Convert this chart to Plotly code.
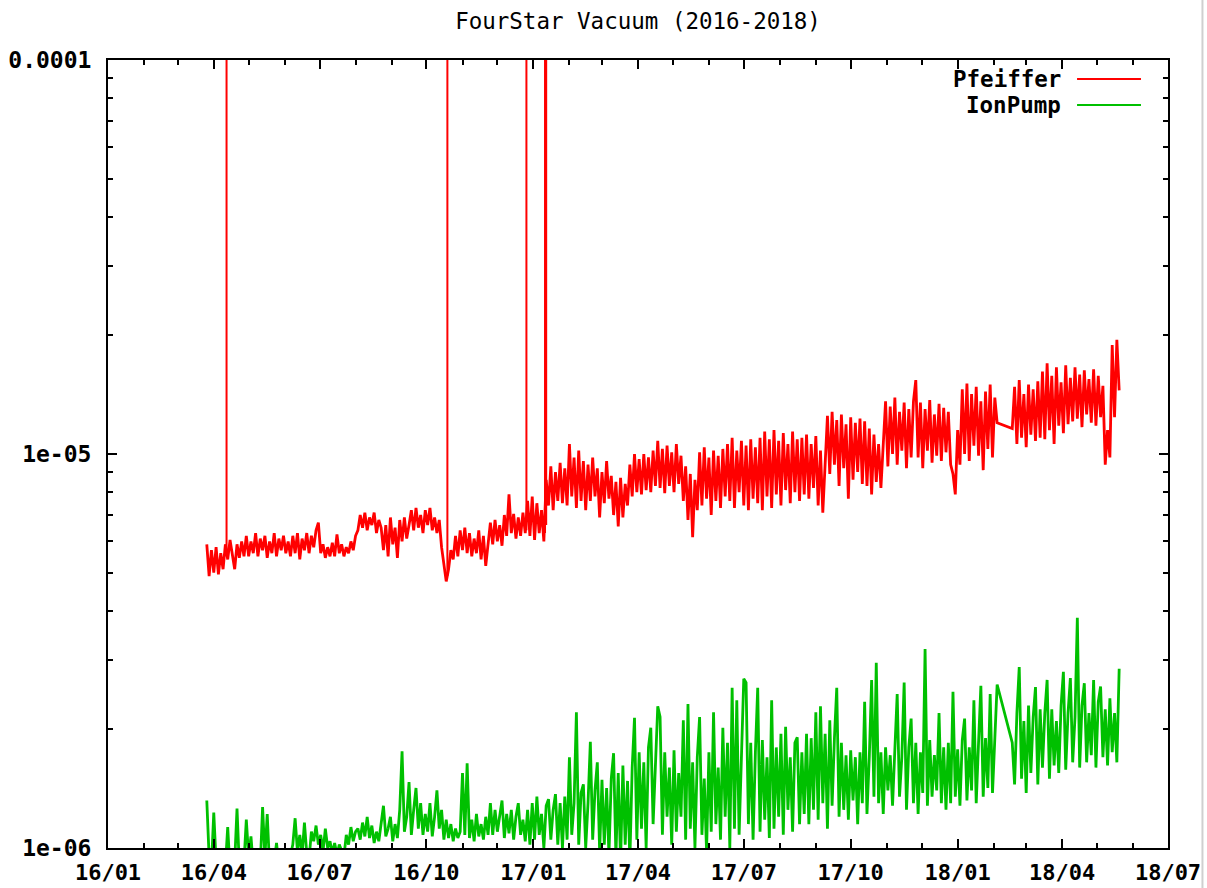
import pandas as pd
import plotly.graph_objects as go

title_text = "FourStar Vacuum (2016-2018)"
series_names = ["Pfeiffer", "IonPump"]
series_colors = ["#ff0000", "#00c000"]

# Sampling: 2-day cadence, two runs separated by a data gap in Feb 2018
run1_start = "2016-03-26"
run2_start = "2018-02-17"
sample_step = "2D"
unit = 1e-6  # all values below are in units of 1e-6

pfeiffer_run1 = [
    5.9, 4.9, 5.7, 5.0, 5.8, 4.95, 5.6, 5.1, 5.9, 5.4,
    6.05, 5.5, 5.1, 5.9, 5.45, 6.0, 5.5, 6.2, 5.5, 6.0,
    5.6, 6.3, 5.5, 6.1, 5.7, 6.2, 5.45, 6.0, 5.6, 6.3,
    5.5, 6.1, 5.7, 6.2, 5.6, 6.0, 5.5, 6.2, 5.6, 6.3,
    5.4, 6.1, 5.7, 6.3, 5.6, 6.2, 5.8, 6.4, 6.7, 5.6,
    5.9, 5.45, 5.8, 5.5, 5.95, 5.5, 6.25, 5.6, 5.9, 5.5,
    5.8, 5.6, 6.0, 5.7, 6.2, 6.4, 7.0, 6.5, 7.1, 6.4,
    6.9, 6.6, 7.1, 6.3, 6.8, 6.5, 5.7, 6.6, 5.5, 6.9,
    5.9, 6.5, 5.45, 6.8, 6.0, 6.9, 6.1, 6.6, 7.2, 6.4,
    7.3, 6.5, 7.0, 6.3, 7.2, 6.6, 7.3, 6.4, 6.9, 6.3,
    6.8, 5.8, 5.2, 4.75, 5.1, 5.7, 5.4, 6.2, 5.5, 6.4,
    5.7, 6.5, 5.6, 6.3, 5.5, 6.1, 5.6, 6.4, 5.4, 6.2,
    5.2, 5.9, 6.7, 5.9, 6.8, 6.0, 6.6, 5.85, 7.0, 6.2,
    7.9, 6.3, 7.05, 6.1, 6.9, 6.2, 7.1, 6.3, 7.6, 6.2,
    7.8, 6.05, 7.5, 6.3, 7.2, 6.0, 8.6, 7.4, 9.3, 7.2,
    9.0, 7.6, 9.5, 7.5, 9.2, 7.4, 10.6, 7.8, 9.8, 7.3,
    10.2, 7.6, 9.6, 7.2, 9.4, 7.6, 9.8, 7.8, 9.2, 6.9,
    9.0, 7.5, 9.6, 7.7, 8.8, 7.0, 8.5, 6.55, 8.7, 6.9,
    8.4, 7.4, 9.4, 7.8, 10.0, 8.0, 9.7, 7.9, 10.0, 8.1,
    9.8, 8.0, 10.2, 8.3, 10.8, 8.2, 10.3, 7.95, 10.5, 8.3,
    10.1, 8.0, 10.6, 8.4, 9.9, 7.6, 9.3, 6.8, 8.9, 6.15,
    8.6, 7.2, 10.1, 7.4, 10.4, 7.7, 9.8, 7.0, 10.2, 7.6,
    9.9, 7.3, 10.3, 7.8, 10.6, 7.6, 11.0, 7.3, 10.2, 8.0,
    10.8, 7.4, 10.5, 7.2, 10.9, 7.7, 10.4, 7.5, 11.0, 7.2,
    11.4, 7.8, 10.9, 7.3, 11.5, 7.9, 10.8, 7.4, 11.3, 8.1,
    10.6, 7.5, 11.4, 8.0, 10.9, 7.6, 11.0, 7.9, 11.2, 7.7,
    10.6, 8.2, 11.1, 7.4, 10.2, 7.1, 9.8, 12.5, 8.9, 12.8,
    9.4, 12.2, 8.3, 12.6, 9.2, 11.9, 7.7, 12.4, 8.6, 12.0,
    9.0, 12.3, 8.4, 12.1, 8.3, 11.6, 7.9, 11.2, 8.5, 10.6,
    8.2, 10.4, 13.6, 9.3, 13.2, 10.0, 13.9, 9.4, 12.8, 10.2,
    13.5, 9.2, 13.0, 9.8, 13.6, 15.4, 9.8, 13.5, 9.2, 13.0,
    10.2, 13.7, 9.5, 12.6, 9.9, 13.4, 9.6, 13.1, 10.1, 12.8,
    9.4, 8.9, 7.9, 11.5, 9.4, 14.6, 10.0, 15.1, 9.6, 14.2,
    10.5, 14.8, 9.9, 13.6, 9.1, 14.4, 10.3, 15.0, 9.8, 13.9,
    12.0,
]
pfeiffer_run2 = [
    11.6, 14.8, 10.6, 15.4, 11.0, 14.2, 10.4, 15.0, 11.2, 14.6,
    10.8, 15.3, 11.0, 16.2, 10.9, 17.0, 11.5, 15.8, 10.6, 16.6,
    11.8, 15.2, 11.3, 16.8, 11.9, 15.6, 12.1, 16.6, 12.3, 15.9,
    11.7, 16.3, 12.6, 15.5, 12.0, 16.4, 11.8, 15.8, 12.4, 14.9,
    9.4, 11.5, 9.8, 18.9, 12.4, 19.5, 14.5,
]
# brief gauge excursions that run off the top of the scale
pfeiffer_spike_dates = ["2016-04-12", "2016-10-19", "2016-12-26", "2017-01-11", "2017-01-12"]
pfeiffer_spike_base = [5.5, 4.9, 6.4, 6.3, 6.6]
pfeiffer_spike_top = [1000, 1000, 1000, 1000, 1000]

ionpump_run1 = [
    1.32, 0.95, 0.9, 1.23, 0.92, 0.88, 0.9, 0.86, 0.9, 1.13,
    0.88, 0.9, 0.92, 1.26, 0.9, 0.94, 0.92, 1.18, 0.95, 1.07,
    0.9, 0.88, 0.92, 0.9, 1.27, 0.95, 1.22, 0.9, 0.88, 0.92,
    1.03, 0.9, 0.87, 0.95, 0.9, 0.92, 0.96, 1.02, 1.19, 0.98,
    1.08, 0.96, 1.16, 0.97, 0.94, 1.1, 1.04, 1.14, 1.02, 1.08,
    0.98, 1.12, 1.0, 1.04, 0.97, 1.03, 0.96, 1.02, 0.99, 0.95,
    1.08, 1.02, 1.13, 1.04, 1.1, 1.12, 1.05, 1.16, 1.07, 1.2,
    1.06, 1.14, 1.03, 1.1, 1.04, 1.15, 1.28, 1.07, 1.12, 1.2,
    1.04, 1.15, 1.06, 1.25, 1.76, 1.1, 1.2, 1.47, 1.08, 1.25,
    1.42, 1.12, 1.3, 1.08, 1.22, 1.1, 1.3, 1.07, 1.2, 1.4,
    1.12, 1.25, 1.05, 1.18, 1.06, 1.15, 1.04, 1.12, 1.06, 1.1,
    1.55, 1.08, 1.64, 1.06, 1.18, 1.04, 1.22, 1.07, 1.15, 1.05,
    1.2, 1.08, 1.3, 1.08, 1.25, 1.1, 1.22, 1.32, 1.06, 1.22,
    1.09, 1.25, 1.05, 1.2, 1.3, 1.08, 1.18, 1.04, 1.25, 1.02,
    1.3, 1.05, 1.35, 1.08, 1.22, 1.0, 1.28, 1.33, 1.05, 1.25,
    1.37, 1.02, 1.3, 1.0, 1.35, 1.05, 1.7, 1.08, 1.3, 2.21,
    1.02, 1.38, 1.45, 1.0, 1.3, 1.86, 1.05, 1.4, 1.65, 0.98,
    1.49, 1.02, 1.42, 0.96, 1.5, 1.74, 0.95, 1.55, 0.92, 1.62,
    1.02, 1.48, 0.93, 1.6, 2.14, 1.05, 1.75, 1.12, 1.65, 1.0,
    1.8, 2.02, 1.15, 1.7, 2.29, 2.15, 1.08, 1.75, 1.2, 1.6,
    1.02, 1.77, 1.1, 1.55, 1.2, 2.11, 1.05, 2.32, 1.12, 1.65,
    1.0, 1.7, 2.15, 1.08, 1.5, 0.98, 1.75, 1.1, 2.21, 1.15,
    1.6, 1.05, 2.02, 1.2, 1.85, 1.0, 2.55, 1.12, 2.37, 1.08,
    1.8, 2.69, 2.63, 1.15, 1.85, 1.05, 1.75, 2.55, 1.1, 1.88,
    1.18, 1.7, 1.06, 2.37, 1.12, 1.8, 1.2, 1.95, 1.08, 2.03,
    1.25, 1.7, 1.1, 1.85, 1.91, 1.15, 1.75, 1.22, 1.95, 1.15,
    1.9, 1.25, 2.21, 1.18, 2.29, 1.3, 1.95, 1.12, 2.11, 1.28,
    1.9, 2.55, 1.2, 1.85, 1.25, 1.72, 1.18, 1.77, 1.32, 1.7,
    1.15, 1.75, 1.3, 2.35, 1.22, 1.7, 2.67, 1.35, 2.95, 1.3,
    1.75, 1.22, 1.8, 1.4, 1.72, 1.28, 1.78, 2.46, 1.35, 1.7,
    2.63, 1.25, 1.8, 2.13, 1.3, 1.85, 1.22, 1.75, 1.38, 3.2,
    1.28, 1.88, 1.35, 1.72, 1.4, 2.2, 1.3, 1.8, 1.25, 1.85,
    1.3, 2.49, 1.35, 1.78, 1.28, 1.88, 2.13, 1.32, 1.8, 1.4,
    2.37, 1.3, 1.85, 2.58, 1.35, 1.9, 1.42, 2.46, 1.38, 1.95,
    2.6,
]
ionpump_run2 = [
    1.85, 1.45, 2.2, 2.88, 1.5, 2.1, 1.38, 2.3, 1.55, 2.15,
    2.56, 1.45, 2.25, 1.6, 2.2, 2.67, 1.5, 2.25, 1.62, 2.1,
    1.55, 2.3, 2.8, 1.58, 2.2, 2.7, 1.65, 2.15, 3.84, 1.6,
    2.3, 2.62, 1.65, 2.2, 1.72, 2.67, 1.6, 2.35, 2.57, 1.7,
    2.25, 1.62, 2.4, 1.75, 2.2, 1.65, 2.85,
]

x_tick_dates = ["2016-01-01", "2016-04-01", "2016-07-01", "2016-10-01",
                "2017-01-01", "2017-04-01", "2017-07-01", "2017-10-01",
                "2018-01-01", "2018-04-01", "2018-07-01"]
x_tick_labels = ["16/01", "16/04", "16/07", "16/10", "17/01", "17/04",
                 "17/07", "17/10", "18/01", "18/04", "18/07"]
y_tick_values = [1e-6, 1e-5, 1e-4]
y_tick_labels = ["1e-06", "1e-05", "0.0001"]
y_minor_values = [m * 1e-6 for m in range(2, 10)] + [m * 1e-5 for m in range(2, 10)]


def build(run1, run2):
    d1 = pd.date_range(run1_start, periods=len(run1), freq=sample_step)
    d2 = pd.date_range(run2_start, periods=len(run2), freq=sample_step)
    xs = list(d1) + list(d2)
    ys = [v * unit for v in run1 + run2]
    return xs, ys


FONT = "DejaVu Sans Mono"
fig = go.Figure()

# Pfeiffer spikes drawn as vertical strokes at their dates
sx, sy = [], []
for d, b, t in zip(pfeiffer_spike_dates, pfeiffer_spike_base, pfeiffer_spike_top):
    sx += [d, d, None]
    sy += [b * unit, t * unit, None]
fig.add_trace(go.Scatter(x=sx, y=sy, mode="lines", line=dict(color=series_colors[0], width=2),
                         showlegend=False, hoverinfo="skip"))

for name, color, (r1, r2) in zip(series_names, series_colors,
                                 [(pfeiffer_run1, pfeiffer_run2), (ionpump_run1, ionpump_run2)]):
    xs, ys = build(r1, r2)
    fig.add_trace(go.Scatter(x=xs, y=ys, mode="lines", name=name,
                             line=dict(color=color, width=2.8), showlegend=False))

axis_common = dict(showline=True, linecolor="black", linewidth=2, mirror="allticks",
                   ticks="inside", ticklen=9, tickwidth=1.5, tickcolor="black",
                   showgrid=False, zeroline=False, automargin=False)

fig.update_layout(
    width=1207, height=888,
    margin=dict(l=108, r=39, t=60, b=40),
    paper_bgcolor="white", plot_bgcolor="white",
    title=dict(text=title_text, x=0.5286, xanchor="center", y=1 - 21 / 888, yanchor="middle",
               yref="container", font=dict(family=FONT, size=22.5, color="black")),
    xaxis=dict(type="date", range=[x_tick_dates[0], x_tick_dates[-1]],
               tickmode="array", tickvals=x_tick_dates, ticktext=x_tick_labels,
               minor=dict(dtick="M1", ticks="inside", ticklen=5, tickwidth=1.5, tickcolor="black"),
               ticklabelstandoff=4,
               tickfont=dict(family=FONT, size=22, color="black", weight="bold"),
               **axis_common),
    yaxis=dict(type="log", range=[-6, -4],
               tickmode="array", tickvals=y_tick_values, ticktext=y_tick_labels,
               minor=dict(tickmode="array", tickvals=y_minor_values, ticks="inside",
                          ticklen=5, tickwidth=1.5, tickcolor="black"),
               ticklabelstandoff=10,
               tickfont=dict(family=FONT, size=23, color="black", weight="bold"),
               **axis_common),
)

# gnuplot-style key: right-aligned label followed by a line sample
key_rows = [0.9759, 0.9429]
for name, color, ky in zip(series_names, series_colors, key_rows):
    fig.add_annotation(xref="paper", yref="paper", x=0.9009, y=ky, xanchor="right",
                       yanchor="middle", showarrow=False, text=name,
                       font=dict(family=FONT, size=22.5, color="black", weight="bold"))
    fig.add_shape(type="line", xref="paper", yref="paper", x0=0.9142, x1=0.9745,
                  y0=ky, y1=ky, line=dict(color=color, width=2))

# light window edge at the far right of the capture
fig.add_shape(type="line", xref="paper", yref="paper", x0=1.0325, x1=1.0325,
              y0=-40 / 788, y1=1 + 60 / 788, line=dict(color="#cfcfcf", width=2))

fig.write_html("out.html")
